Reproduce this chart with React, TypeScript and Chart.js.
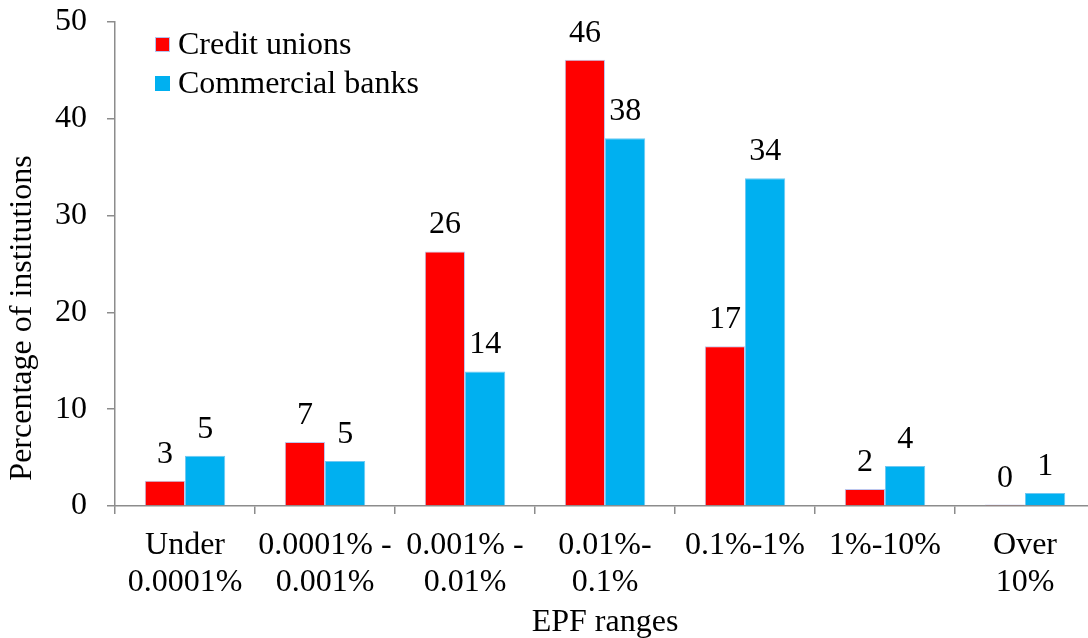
import React, { useEffect, useRef } from "react";
import { Chart, registerables } from "chart.js";

Chart.register(...registerables);

const categories: string[][] = [
  ["Under", "0.0001%"],
  ["0.0001% -", "0.001%"],
  ["0.001% -", "0.01%"],
  ["0.01%-", "0.1%"],
  ["0.1%-1%"],
  ["1%-10%"],
  ["Over", "10%"],
];

const creditUnions: number[] = [2.6, 6.6, 26.3, 46.1, 16.5, 1.75, 0.15];
const commercialBanks: number[] = [5.2, 4.65, 13.9, 38.0, 33.85, 4.13, 1.34];

const creditUnionLabels: string[] = ["3", "7", "26", "46", "17", "2", "0"];
const commercialBankLabels: string[] = ["5", "5", "14", "38", "34", "4", "1"];

const yTicks: number[] = [0, 10, 20, 30, 40, 50];

const seriesNames: string[] = ["Credit unions", "Commercial banks"];
const yTitle = "Percentage of institutions";
const xTitle = "EPF ranges";

const FONT = "'Liberation Serif', 'Times New Roman', Times, serif";
const FS = 32;
const RED = "#FF0000";
const BLUE = "#00B0F0";
const AXIS = "#8C8C8C";

const W = 1096;
const H = 638;

const overlayPlugin = {
  id: "overlay",
  afterDatasetsDraw(chart: any) {
    const ctx = chart.ctx;
    const area = chart.chartArea;
    ctx.save();
    ctx.font = `${FS}px ${FONT}`;
    ctx.fillStyle = "#000";
    ctx.textAlign = "center";
    ctx.textBaseline = "alphabetic";
    const labelSets = [creditUnionLabels, commercialBankLabels];
    chart.data.datasets.forEach((_ds: any, di: number) => {
      const meta = chart.getDatasetMeta(di);
      meta.data.forEach((el: any, i: number) => {
        ctx.fillText(labelSets[di][i], el.x, el.y - 18);
      });
    });

    // Legend
    const colors = [RED, BLUE];
    const borders = ["#B4C2EC", BLUE];
    seriesNames.forEach((name, i) => {
      const sx = area.left + 40;
      const sy = area.top + 15 + i * 39;
      ctx.fillStyle = colors[i];
      ctx.fillRect(sx, sy, 15, 15);
      ctx.strokeStyle = borders[i];
      ctx.lineWidth = 1;
      ctx.strokeRect(sx + 0.5, sy + 0.5, 14, 14);
      ctx.fillStyle = "#000";
      ctx.textAlign = "left";
      ctx.fillText(name, sx + 23, sy + 17);
    });

    // Y title
    ctx.translate(23, (area.top + area.bottom) / 2 + 54);
    ctx.rotate(-Math.PI / 2);
    ctx.textAlign = "center";
    ctx.textBaseline = "middle";
    ctx.fillText(yTitle, 0, 0);
    ctx.restore();
  },
};

export default function App() {
  const ref = useRef<HTMLCanvasElement | null>(null);

  useEffect(() => {
    if (!ref.current) return;
    const chart = new Chart(ref.current, {
      type: "bar",
      data: {
        labels: categories,
        datasets: [
          {
            label: seriesNames[0],
            data: creditUnions,
            backgroundColor: RED,
            borderColor: "#BCC6EE",
            borderWidth: 1,
            categoryPercentage: 0.575,
            barPercentage: 1,
          },
          {
            label: seriesNames[1],
            data: commercialBanks,
            backgroundColor: BLUE,
            borderColor: "#6FC8F2",
            borderWidth: 1,
            categoryPercentage: 0.575,
            barPercentage: 1,
          },
        ],
      },
      options: {
        animation: false,
        responsive: false,
        maintainAspectRatio: false,
        devicePixelRatio: 1,
        layout: { padding: { top: 22, right: 1, left: 0, bottom: 0 } },
        plugins: {
          legend: { display: false },
          tooltip: { enabled: false },
        },
        scales: {
          x: {
            grid: {
              display: true,
              drawOnChartArea: false,
              drawTicks: true,
              tickLength: 8,
              color: AXIS,
              lineWidth: 1.5,
              offset: true,
            },
            border: { display: true, color: AXIS, width: 1.5 },
            ticks: {
              color: "#000",
              font: { family: FONT, size: FS, lineHeight: 1.16 },
              padding: 13,
              maxRotation: 0,
              autoSkip: false,
            },
            title: {
              display: true,
              text: xTitle,
              color: "#000",
              font: { family: FONT, size: FS, lineHeight: 1 },
              padding: { top: 0, bottom: -1 },
            },
            afterFit(scale: any) {
              scale.height = 132;
              scale.paddingLeft = 0;
              scale.paddingRight = 0;
            },
          },
          y: {
            min: 0,
            max: 50,
            afterBuildTicks(scale: any) {
              scale.ticks = yTicks.map((v) => ({ value: v }));
            },
            grid: {
              display: true,
              drawOnChartArea: false,
              drawTicks: true,
              tickLength: 8,
              color: AXIS,
              lineWidth: 1.5,
            },
            border: { display: true, color: AXIS, width: 1.5 },
            ticks: {
              color: "#000",
              font: { family: FONT, size: FS },
              padding: 20,
            },
            afterFit(scale: any) {
              scale.width = 115;
              scale.paddingTop = 0;
              scale.paddingBottom = 0;
            },
          },
        },
      },
      plugins: [overlayPlugin],
    });
    return () => chart.destroy();
  }, []);

  return (
    <div
      style={{
        position: "fixed",
        left: 0,
        top: 0,
        width: W,
        height: H,
        background: "#fff",
      }}
    >
      <canvas
        ref={ref}
        width={W}
        height={H}
        style={{ display: "block", width: W, height: H }}
      />
    </div>
  );
}
